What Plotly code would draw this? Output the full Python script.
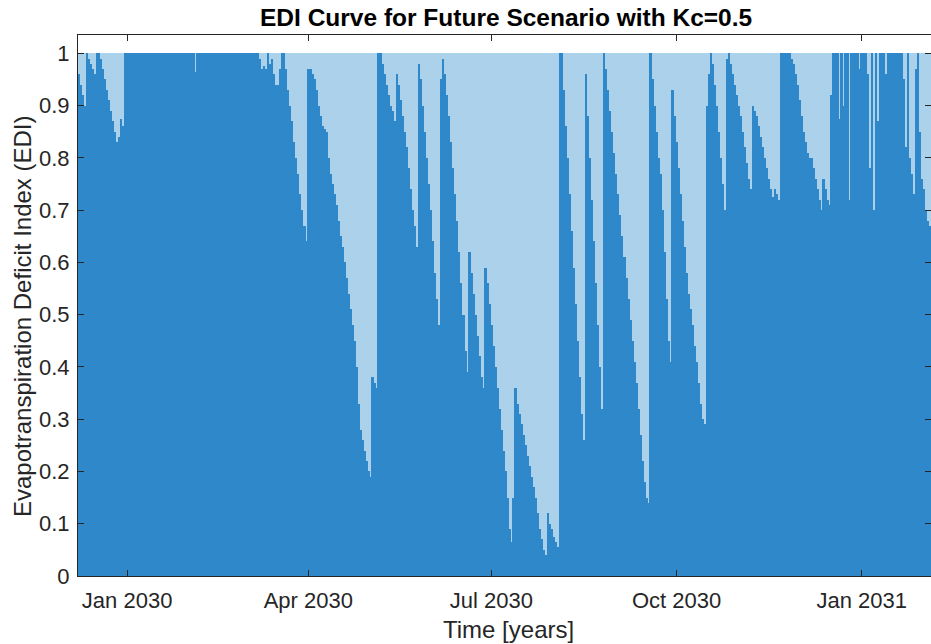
import pandas as pd
import plotly.graph_objects as go

# Daily EDI values (start 2029-12-08)
edi_dec2029 = [0.96, 0.94, 0.92, 0.90, 1.0, 0.99, 0.98, 0.97, 0.96, 1.0, 1.0, 0.99,
               0.97, 0.95, 0.93, 0.91, 0.89, 0.87, 0.85, 0.83, 0.84, 0.875, 0.86, 1.0]
edi_jan2030 = [1.0] * 31
edi_feb2030 = [1.0, 1.0, 1.0, 0.965, 1.0, 1.0, 1.0, 1.0, 1.0, 1.0, 1.0, 1.0, 1.0, 1.0,
               1.0, 1.0, 1.0, 1.0, 1.0, 1.0, 1.0, 1.0, 1.0, 1.0, 1.0, 1.0, 1.0, 1.0]
edi_mar2030 = [1.0, 1.0, 1.0, 1.0, 1.0, 1.0, 1.0, 0.99, 0.97, 0.975, 0.97, 1.0, 0.98,
               0.99, 0.96, 0.94, 0.94, 0.97, 1.0, 1.0, 0.97, 0.93, 0.90, 0.87, 0.83,
               0.80, 0.77, 0.73, 0.70, 0.67, 0.64]
edi_apr2030 = [0.97, 0.97, 0.96, 0.95, 0.93, 0.90, 0.88, 0.86, 0.855, 0.85, 0.80, 0.77,
               0.75, 0.73, 0.71, 0.68, 0.65, 0.63, 0.60, 0.57, 0.54, 0.51, 0.48, 0.45,
               0.40, 0.33, 0.28, 0.26, 0.24, 0.22]
edi_may2030 = [0.20, 0.19, 0.38, 0.37, 0.36, 1.0, 1.0, 0.98, 0.96, 0.94, 0.92, 0.90,
               0.89, 0.87, 0.96, 0.94, 0.91, 0.88, 0.85, 0.82, 0.78, 0.74, 0.70, 0.67,
               0.63, 0.98, 0.95, 0.90, 0.85, 0.80, 0.75]
edi_jun2030 = [0.70, 0.64, 0.58, 0.53, 0.48, 0.95, 0.99, 0.96, 0.92, 0.88, 0.83, 0.78,
               0.73, 0.68, 0.62, 0.56, 0.50, 0.43, 0.39, 0.62, 0.58, 0.54, 0.50, 0.46,
               0.42, 0.38, 0.36, 0.59, 0.56, 0.52]
edi_jul2030 = [0.48, 0.44, 0.40, 0.36, 0.32, 0.28, 0.24, 0.20, 0.15, 0.09, 0.065, 0.15,
               0.36, 0.33, 0.31, 0.29, 0.27, 0.25, 0.23, 0.21, 0.19, 0.17, 0.15, 0.12,
               0.09, 0.07, 0.05, 0.04, 0.12, 0.10, 0.09]
edi_aug2030 = [0.075, 0.065, 0.055, 1.0, 1.0, 0.93, 0.86, 0.80, 0.73, 0.66, 0.59, 0.52,
               0.45, 0.38, 0.31, 0.26, 0.96, 0.88, 0.80, 0.72, 0.64, 0.56, 0.48, 0.40,
               0.32, 1.0, 0.97, 0.93, 0.89, 0.85, 0.81]
edi_sep2030 = [0.77, 0.73, 0.69, 0.65, 0.61, 0.57, 0.53, 0.49, 0.45, 0.41, 0.37, 0.32,
               0.27, 0.22, 0.18, 0.15, 0.14, 1.0, 0.95, 0.90, 0.85, 0.80, 0.77, 0.70,
               0.62, 0.53, 0.45, 0.41, 0.93, 0.88]
edi_oct2030 = [0.83, 0.78, 0.73, 0.68, 0.63, 0.58, 0.54, 0.51, 0.48, 0.44, 0.41, 0.37,
               0.33, 0.30, 0.29, 0.90, 0.96, 1.0, 0.98, 0.94, 0.90, 0.85, 0.80, 0.75,
               0.70, 0.99, 1.0, 0.98, 0.96, 0.94, 0.92]
edi_nov2030 = [0.90, 0.88, 0.85, 0.82, 0.79, 0.76, 0.74, 0.90, 0.89, 0.88, 0.86, 0.84,
               0.82, 0.80, 0.78, 0.76, 0.74, 0.725, 0.74, 0.73, 0.72, 1.0, 1.0, 1.0,
               1.0, 1.0, 0.99, 0.98, 0.96, 0.94]
edi_dec2030 = [0.91, 0.88, 0.85, 0.83, 0.81, 0.80, 0.80, 0.78, 0.76, 0.74, 0.72, 0.70,
               0.76, 0.74, 0.72, 0.71, 0.92, 1.0, 1.0, 1.0, 0.875, 1.0, 0.90, 1.0,
               1.0, 0.72, 1.0, 1.0, 1.0, 1.0, 0.97]
edi_jan2031 = [1.0, 1.0, 1.0, 0.96, 0.78, 1.0, 0.70, 1.0, 0.87, 1.0, 1.0, 1.0, 0.96,
               1.0, 1.0, 1.0, 1.0, 1.0, 1.0, 1.0, 1.0, 0.95, 0.82, 1.0, 0.80, 0.77,
               0.73, 0.97, 1.0, 0.85, 0.76]
edi_feb2031 = [0.74, 0.70, 0.68, 0.67]

edi = (edi_dec2029 + edi_jan2030 + edi_feb2030 + edi_mar2030 + edi_apr2030 +
       edi_may2030 + edi_jun2030 + edi_jul2030 + edi_aug2030 + edi_sep2030 +
       edi_oct2030 + edi_nov2030 + edi_dec2030 + edi_jan2031 + edi_feb2031)

dates = pd.date_range("2029-12-08", periods=len(edi), freq="D")

tick_dates = ["2030-01-01", "2030-04-01", "2030-07-01", "2030-10-01", "2031-01-01"]
tick_text = ["Jan 2030", "Apr 2030", "Jul 2030", "Oct 2030", "Jan 2031"]
y_ticks = [0, 0.1, 0.2, 0.3, 0.4, 0.5, 0.6, 0.7, 0.8, 0.9, 1]
y_text = ["0", "0.1", "0.2", "0.3", "0.4", "0.5", "0.6", "0.7", "0.8", "0.9", "1"]

DAY_MS = 86400000
FONT = "Liberation Sans, Arial, sans-serif"

fig = go.Figure()
# deficit part above each bar (pale)
fig.add_trace(go.Bar(
    x=dates, y=[1 - v for v in edi], base=edi,
    width=1.1 * DAY_MS,
    marker=dict(color="#abd2ea", line=dict(width=0)),
    hoverinfo="skip", showlegend=False,
))
# EDI bars
fig.add_trace(go.Bar(
    x=dates, y=edi,
    width=1.25 * DAY_MS,
    marker=dict(color="#2f88c9", line=dict(width=0)),
    showlegend=False,
))

fig.update_layout(
    width=931, height=644,
    margin=dict(l=78, r=0, t=35, b=68),
    paper_bgcolor="white", plot_bgcolor="white",
    barmode="overlay", bargap=0,
    font=dict(family=FONT, color="#262626"),
    xaxis=dict(
        type="date",
        range=["2029-12-07 14:00", "2031-02-04 10:00"],
        tickvals=tick_dates, ticktext=tick_text,
        ticks="inside", ticklen=6, tickcolor="#262626", tickwidth=1,
        showline=True, linecolor="#262626", linewidth=1, mirror="ticks",
        showgrid=False, zeroline=False,
        tickfont=dict(size=22, color="#262626", family=FONT),
        ticklabelstandoff=5,
    ),
    yaxis=dict(
        range=[0, 1.035],
        tickvals=y_ticks, ticktext=y_text,
        ticks="inside", ticklen=6, tickcolor="#262626", tickwidth=1,
        showline=True, linecolor="#262626", linewidth=1, mirror="ticks",
        showgrid=False, zeroline=False,
        tickfont=dict(size=22, color="#262626", family=FONT),
        ticklabelstandoff=3,
    ),
    annotations=[
        dict(text="<b>EDI Curve for Future Scenario with Kc=0.5</b>",
             xref="paper", yref="paper", x=(506 - 78) / 853, y=1,
             yshift=18, xanchor="center", yanchor="middle", showarrow=False,
             font=dict(size=24.5, family=FONT, color="black")),
        dict(text="Time [years]",
             xref="paper", yref="paper", x=(509 - 78) / 853, y=0,
             yshift=-53, xanchor="center", yanchor="middle", showarrow=False,
             font=dict(size=24, family=FONT, color="#262626")),
        dict(text="Evapotranspiration Deficit Index (EDI)",
             xref="paper", yref="paper", x=0, xshift=-56,
             y=(576 - 316) / 541, xanchor="center", yanchor="middle",
             textangle=-90, showarrow=False,
             font=dict(size=24, family=FONT, color="#262626")),
    ],
)

fig.write_html("out.html")
